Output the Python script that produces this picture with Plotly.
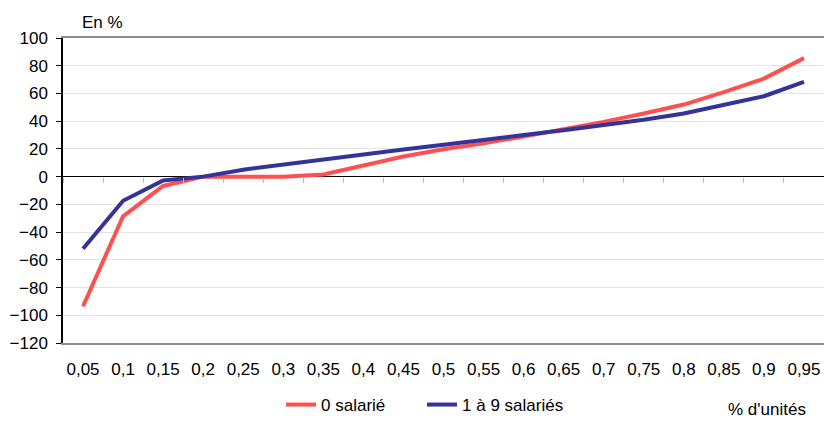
import plotly.graph_objects as go

categories = ["0,05", "0,1", "0,15", "0,2", "0,25", "0,3", "0,35", "0,4", "0,45", "0,5",
              "0,55", "0,6", "0,65", "0,7", "0,75", "0,8", "0,85", "0,9", "0,95"]
zero_salarie = [-93.5, -28.6, -6.7, 0, 0, 0, 1.6, 8, 14.5, 19.8,
                24, 29, 34, 39.5, 45.5, 52, 61, 70.7, 85.5]
un_a_neuf = [-52, -17.4, -2.8, 0, 5, 8.8, 12.4, 15.7, 19.5, 23,
             26.2, 30, 33.5, 37, 41, 45.5, 51.4, 58, 68.4]
y_ticks = [100, 80, 60, 40, 20, 0, -20, -40, -60, -80, -100, -120]

FONT = "Liberation Sans, Arial, sans-serif"
FS = 17

fig = go.Figure()
fig.add_trace(go.Scatter(x=categories, y=zero_salarie, mode="lines", name="0 salarié",
                         line=dict(color="#FF5050", width=4)))
fig.add_trace(go.Scatter(x=categories, y=un_a_neuf, mode="lines", name="1 à 9 salariés",
                         line=dict(color="#333399", width=4)))
fig.add_trace(go.Scatter(x=categories, y=[None] * len(categories), xaxis="x2",
                         showlegend=False, hoverinfo="skip"))

fig.update_layout(
    width=824, height=423,
    margin=dict(l=63, r=0, t=38, b=77, pad=0),
    paper_bgcolor="white", plot_bgcolor="white",
    font=dict(family=FONT, size=FS, color="#000000"),
    xaxis=dict(type="category", categoryorder="array", categoryarray=categories,
               tickvals=categories, ticktext=categories,
               showline=True, linecolor="#8C8C8C", linewidth=1.5, mirror=True,
               showgrid=False, ticks="", ticklabelstandoff=10, range=[-0.5, 18.5]),
    xaxis2=dict(type="category", categoryorder="array", categoryarray=categories,
                overlaying="x", anchor="free", position=1 - 140 / 308,
                showticklabels=False, ticks="outside", ticklen=5, tickcolor="#BBBBBB",
                tickson="boundaries", showline=False, showgrid=False, range=[-0.5, 18.5]),
    yaxis=dict(range=[-120, 100], tickvals=y_ticks, showgrid=True, gridcolor="#E3E3E3",
               gridwidth=1, zeroline=True, zerolinecolor="#000000", zerolinewidth=1.2,
               showline=True, linecolor="#000000", linewidth=1.5,
               ticks="outside", ticklen=5, tickcolor="#000000", ticklabelstandoff=5),
    legend=dict(orientation="h", x=0.2865, y=-0.2045, xanchor="left", yanchor="middle",
                font=dict(size=FS), entrywidth=96, traceorder="normal"),
    annotations=[
        dict(text="En %", xref="paper", yref="paper", x=0.0223, y=1.052,
             xanchor="left", yanchor="middle", showarrow=False, font=dict(size=FS)),
        dict(text="% d'unités", xref="paper", yref="paper", x=0.979, y=-0.2175,
             xanchor="right", yanchor="middle", showarrow=False, font=dict(size=FS)),
    ],
)
fig.write_html("out.html", config={"displayModeBar": False},
               post_script="document.body.style.margin='0';document.body.style.overflow='hidden';")
